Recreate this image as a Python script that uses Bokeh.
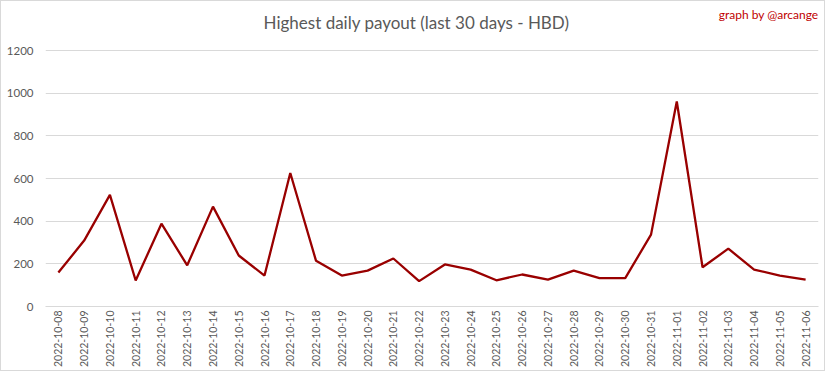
import math
from bokeh.plotting import figure
from bokeh.models import FactorRange, Range1d, Label, FixedTicker
from bokeh.embed import file_html
from bokeh.resources import INLINE

dates = ["2022-10-08", "2022-10-09", "2022-10-10", "2022-10-11", "2022-10-12",
         "2022-10-13", "2022-10-14", "2022-10-15", "2022-10-16", "2022-10-17",
         "2022-10-18", "2022-10-19", "2022-10-20", "2022-10-21", "2022-10-22",
         "2022-10-23", "2022-10-24", "2022-10-25", "2022-10-26", "2022-10-27",
         "2022-10-28", "2022-10-29", "2022-10-30", "2022-10-31", "2022-11-01",
         "2022-11-02", "2022-11-03", "2022-11-04", "2022-11-05", "2022-11-06"]
payout = [159, 309, 523, 122, 388, 193, 468, 239, 145, 626,
          214, 145, 168, 225, 119, 197, 173, 123, 150, 126,
          168, 133, 133, 337, 961, 184, 271, 173, 145, 126]
y_ticks = [0, 200, 400, 600, 800, 1000, 1200]

title_text = "Highest daily payout (last 30 days - HBD)"
credit_text = "graph by @arcange"

W, H = 825, 371
# frame reaches the top of the canvas so the title texts (placed in the frame) are not clipped;
# the axis stops at 1200 (last tick), the extra headroom holds the titles
y_top = 1200 * 305 / 256
p = figure(width=W, height=H, x_range=FactorRange(factors=dates), y_range=Range1d(0, y_top),
           output_backend="svg", toolbar_location=None,
           min_border_left=44, min_border_right=8, min_border_top=0, min_border_bottom=66,
           styles={"border": "1px solid #d9d9d9", "box-sizing": "border-box"})
p.title = None
p.line(dates, payout, line_color="#990000", line_width=2.3)

p.outline_line_color = None
p.background_fill_color = "white"
p.border_fill_color = "white"
p.xgrid.grid_line_color = None
p.ygrid.grid_line_color = "#d9d9d9"
p.ygrid.grid_line_width = 1

p.yaxis.ticker = FixedTicker(ticks=y_ticks)
p.yaxis.axis_line_color = None
p.yaxis.major_tick_line_color = None
p.yaxis.minor_tick_line_color = None
p.yaxis.major_tick_out = 0
p.yaxis.major_tick_in = 0
p.yaxis.minor_tick_out = 0
p.yaxis.major_label_text_color = "#595959"
p.yaxis.major_label_text_font = "Lato"
p.yaxis.major_label_text_font_size = "11.5px"
p.yaxis.major_label_standoff = 12

p.xaxis.axis_line_color = "#d9d9d9"
p.xaxis.major_tick_line_color = None
p.xaxis.minor_tick_line_color = None
p.xaxis.major_tick_out = 0
p.xaxis.major_tick_in = 0
p.xaxis.major_label_orientation = math.pi / 2
p.xaxis.major_label_text_color = "#595959"
p.xaxis.major_label_text_font = "Lato"
p.xaxis.major_label_text_font_size = "10.5px"
p.xaxis.major_label_standoff = 4

# Label positions: screen units relative to the plot frame (origin at its bottom-left)
p.add_layout(Label(x=371, y=284, x_units="screen", y_units="screen",
                   text=title_text, text_align="center", text_baseline="middle",
                   text_font="Lato", text_font_size="17px", text_color="#595959"))
p.add_layout(Label(x=773, y=292, x_units="screen", y_units="screen",
                   text=credit_text, text_align="right", text_baseline="middle",
                   text_font="Lato", text_font_size="12px", text_color="#c00000"))

open("out.html", "w").write(file_html(p, INLINE))
